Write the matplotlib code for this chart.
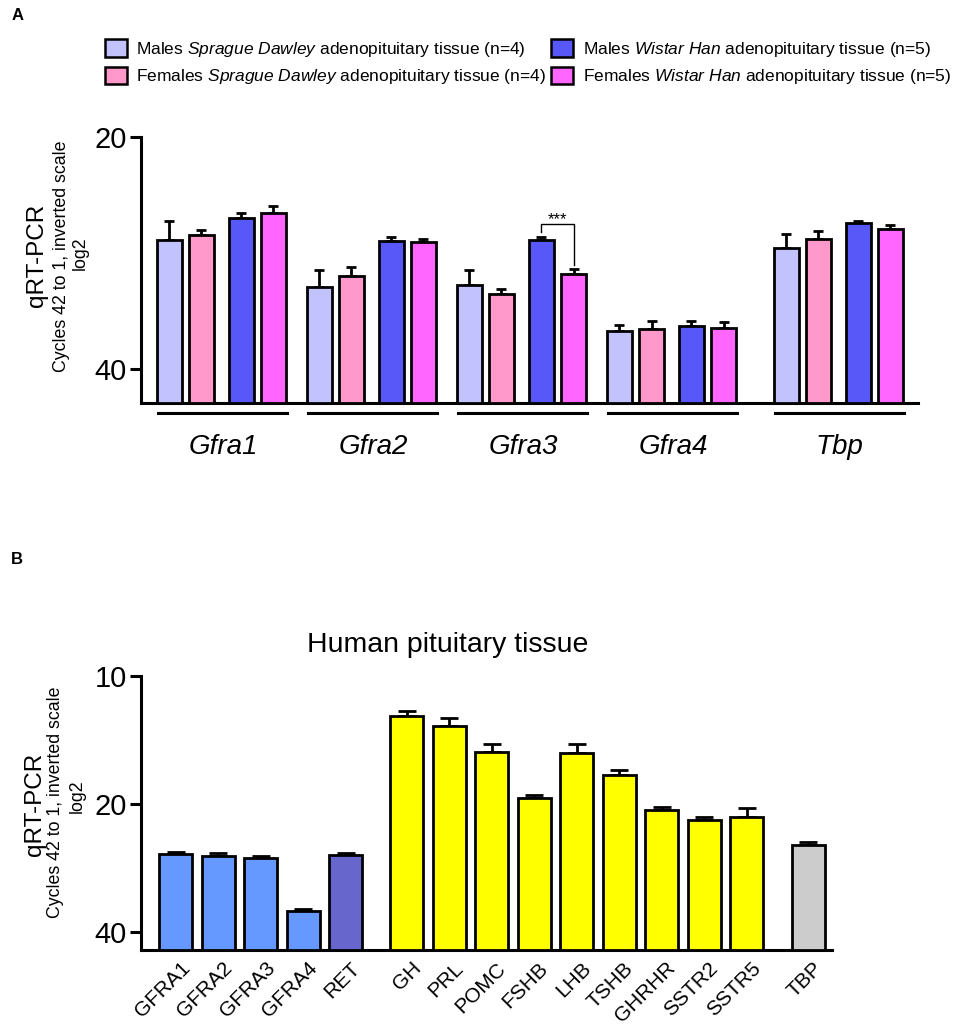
import matplotlib.pyplot as plt
import matplotlib.transforms as mtransforms
from matplotlib.ticker import FixedLocator, FixedFormatter, NullLocator
from matplotlib.patches import Patch

plt.rcParams['font.family'] = ['Liberation Sans', 'DejaVu Sans']
plt.rcParams['mathtext.fontset'] = 'custom'
plt.rcParams['mathtext.rm'] = 'Liberation Sans'
plt.rcParams['mathtext.it'] = 'Liberation Sans:italic'

# ---- panel A data (Ct values, mean and SEM) ----
groups_a = ['Gfra1', 'Gfra2', 'Gfra3', 'Gfra4', 'Tbp']
male_sd = [27.2, 31.3, 31.1, 35.7, 27.9]
male_sd_err = [1.5, 1.5, 1.3, 0.6, 1.2]
female_sd = [26.8, 30.3, 32.0, 35.5, 27.1]
female_sd_err = [0.4, 0.8, 0.5, 0.9, 0.6]
male_wh = [25.5, 27.3, 27.2, 35.2, 25.9]
male_wh_err = [0.4, 0.3, 0.2, 0.6, 0.2]
female_wh = [25.1, 27.4, 30.1, 35.4, 26.3]
female_wh_err = [0.5, 0.3, 0.4, 0.6, 0.3]
series_a_labels = [
    r'Males $\mathit{Sprague\ Dawley}$ adenopituitary tissue (n=4)',
    r'Females $\mathit{Sprague\ Dawley}$ adenopituitary tissue (n=4)',
    r'Males $\mathit{Wistar\ Han}$ adenopituitary tissue (n=5)',
    r'Females $\mathit{Wistar\ Han}$ adenopituitary tissue (n=5)',
]
colors_a = ['#C2C2FF', '#FF99CC', '#5858F8', '#FF66FF']

# ---- panel B data ----
genes_b = ['GFRA1', 'GFRA2', 'GFRA3', 'GFRA4', 'RET', 'GH', 'PRL', 'POMC', 'FSHB',
           'LHB', 'TSHB', 'GHRHR', 'SSTR2', 'SSTR5', 'TBP']
vals_b = [26.2, 26.5, 26.8, 35.7, 26.4, 12.45, 13.1, 15.1, 19.4, 15.2, 17.1, 20.7, 21.8, 21.4, 25.0]
errs_b = [0.3, 0.4, 0.3, 0.5, 0.4, 0.35, 0.5, 0.6, 0.4, 0.7, 0.5, 0.4, 0.3, 1.0, 0.5]
colors_b = ['#6699FF'] * 4 + ['#6666CC'] + ['#FFFF00'] * 9 + ['#CCCCCC']

W, H = 957, 1029
fig = plt.figure(figsize=(W / 100, H / 100), dpi=100)


def box(l, t, r, b):
    return [l / W, 1 - b / H, (r - l) / W, (b - t) / H]


def style_axis(ax, ticks, bottom, top):
    ax.set_yscale('log', base=2)
    ax.set_ylim(bottom, top)
    ax.yaxis.set_major_locator(FixedLocator(ticks))
    ax.yaxis.set_major_formatter(FixedFormatter([str(t) for t in ticks]))
    ax.yaxis.set_minor_locator(NullLocator())
    for s in ['top', 'right']:
        ax.spines[s].set_visible(False)
    for s in ['left', 'bottom']:
        ax.spines[s].set_linewidth(2.2)
    ax.tick_params(axis='y', length=8, width=2.2, labelsize=21, pad=2)


# ================= Panel A =================
ax1 = fig.add_axes(box(140.7, 136.7, 918.3, 402.7))
bottom_a = 44.2
offsets = [0, 1.29, 2.88, 4.17]
starts = [0, 6, 12, 18, 24.67]
series = [(male_sd, male_sd_err), (female_sd, female_sd_err),
          (male_wh, male_wh_err), (female_wh, female_wh_err)]
handles = []
for k, (vals, errs) in enumerate(series):
    xs = [s + offsets[k] for s in starts]
    ax1.bar(xs, [bottom_a - v for v in vals], bottom=vals, width=1.0,
            color=colors_a[k], edgecolor='black', linewidth=2, zorder=3)
    ax1.errorbar(xs, vals, yerr=[errs, [0] * len(errs)], fmt='none', ecolor='black',
                 elinewidth=2, capsize=3.3, capthick=2, zorder=2)
    handles.append(Patch(facecolor=colors_a[k], edgecolor='black', linewidth=1.8))

style_axis(ax1, [20, 40], bottom_a, 20)
ax1.set_xlim(-1.14, 29.96)
ax1.set_xticks([])

trans = mtransforms.blended_transform_factory(ax1.transData, ax1.transAxes)
for s, name in zip(starts, groups_a):
    ax1.plot([s - 0.46, s + 4.72], [-0.04, -0.04], color='black', lw=2.2,
             transform=trans, clip_on=False)
    ax1.text(s + 2.15, -0.165, name, transform=trans, ha='center', va='center',
             fontsize=20, style='italic')

# significance bracket Gfra3 males vs females Wistar Han
xa, xb = starts[2] + offsets[2], starts[2] + offsets[3]
ax1.plot([xa, xa, xb, xb], [26.6, 25.98, 25.98, 29.3], color='black', lw=1, zorder=4)
ax1.text((xa + xb) / 2, 25.6, '***', ha='center', va='center', fontsize=12)

fig.legend(handles, series_a_labels, ncol=2, loc='upper left',
           bbox_to_anchor=(105 / W, 1 - 39 / H), frameon=False, fontsize=12.5,
           borderpad=0, borderaxespad=0, handlelength=1.25, handleheight=1.2,
           handletextpad=0.55, labelspacing=0.45, columnspacing=0.3)

fig.text(12 / W, 1 - 15 / H, 'A', fontsize=12, fontweight='bold', ha='left', va='center')
fig.text(36.7 / W, 1 - 255 / H, 'qRT-PCR', rotation=90, fontsize=17.5, ha='center', va='center')
fig.text(61 / W, 1 - 256 / H, 'Cycles 42 to 1, inverted scale', rotation=90, fontsize=12.8,
         ha='center', va='center')
fig.text(80 / W, 1 - 253 / H, 'log2', rotation=90, fontsize=12.8, ha='center', va='center')

# ================= Panel B =================
ax2 = fig.add_axes(box(140.7, 675.7, 831.7, 950))
bottom_b = 44.0
xb_pos = []
for i in range(len(genes_b)):
    x = i
    if i >= 5:
        x += 0.43
    if i >= 14:
        x += 0.45
    xb_pos.append(x)
ax2.bar(xb_pos, [bottom_b - v for v in vals_b], bottom=vals_b, width=0.78,
        color=colors_b, edgecolor='black', linewidth=2, zorder=3)
ax2.errorbar(xb_pos, vals_b, yerr=[errs_b, [0] * len(errs_b)], fmt='none', ecolor='black',
             elinewidth=2, capsize=6.5, capthick=2, zorder=2)
style_axis(ax2, [10, 20, 40], bottom_b, 10)
ax2.set_xlim(-0.826, 15.43)
ax2.set_xticks(xb_pos)
ax2.set_xticklabels(genes_b, rotation=45, ha='right', va='center', rotation_mode='anchor',
                    fontsize=15)
ax2.tick_params(axis='x', length=0, pad=11)
shift = mtransforms.ScaledTranslation(8 / 72, 0, fig.dpi_scale_trans)
for lab in ax2.get_xticklabels():
    lab.set_transform(lab.get_transform() + shift)

fig.text(448 / W, 1 - 645 / H, 'Human pituitary tissue', fontsize=20.5, ha='center', va='center')
fig.text(11 / W, 1 - 560 / H, 'B', fontsize=12, fontweight='bold', ha='left', va='center')
fig.text(35 / W, 1 - 804 / H, 'qRT-PCR', rotation=90, fontsize=17.5, ha='center', va='center')
fig.text(56 / W, 1 - 802 / H, 'Cycles 42 to 1, inverted scale', rotation=90, fontsize=12.8,
         ha='center', va='center')
fig.text(77 / W, 1 - 796 / H, 'log2', rotation=90, fontsize=12.8, ha='center', va='center')

fig.savefig('out.png', dpi=100)
